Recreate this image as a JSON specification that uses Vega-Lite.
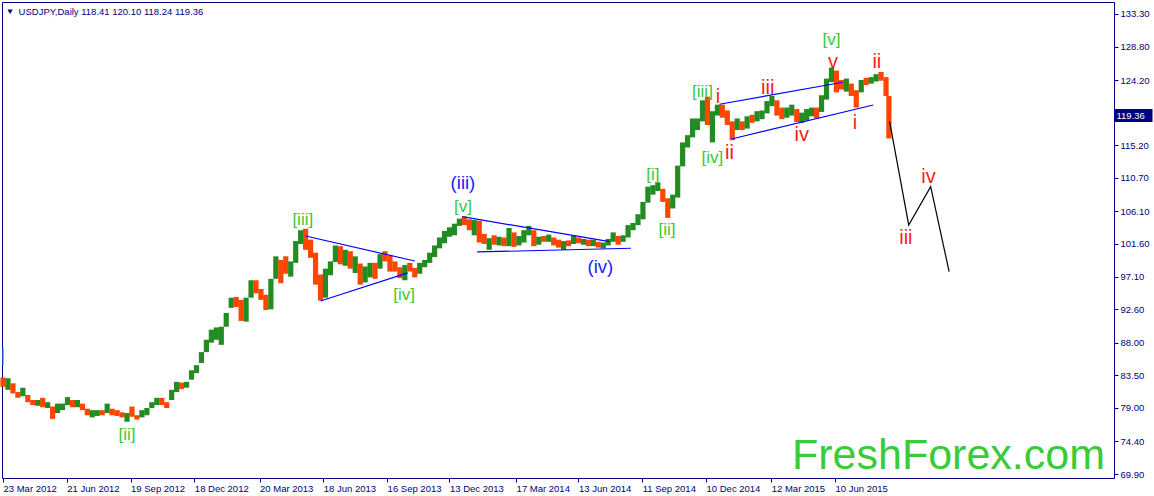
{
  "$schema": "https://vega.github.io/schema/vega-lite/v6.json",
  "width": 1112,
  "height": 476,
  "autosize": {"type": "none"},
  "padding": {"left": 2, "top": 2, "right": 40, "bottom": 18},
  "background": "white",
  "config": {
    "view": {"stroke": "#000080", "strokeWidth": 1},
    "font": "Liberation Sans",
    "text": {"font": "Liberation Sans"}
  },
  "datasets": {
    "bars": [
      {"date":"2012-03-23","o":83.0,"h":83.2,"l":81.9,"c":82.3},
      {"date":"2012-03-30","o":82.3,"h":83.1,"l":81.5,"c":82.9},
      {"date":"2012-04-06","o":82.3,"h":82.4,"l":81.0,"c":81.2},
      {"date":"2012-04-13","o":81.1,"h":81.2,"l":80.4,"c":80.6},
      {"date":"2012-04-20","o":80.7,"h":81.8,"l":80.6,"c":81.5},
      {"date":"2012-04-27","o":80.7,"h":80.8,"l":79.8,"c":80.1},
      {"date":"2012-05-04","o":80.0,"h":80.1,"l":79.4,"c":79.6},
      {"date":"2012-05-11","o":79.5,"h":80.1,"l":79.3,"c":79.9},
      {"date":"2012-05-18","o":80.0,"h":80.4,"l":79.1,"c":79.3},
      {"date":"2012-05-25","o":79.4,"h":79.8,"l":79.0,"c":79.6},
      {"date":"2012-06-01","o":79.2,"h":79.2,"l":77.5,"c":78.0},
      {"date":"2012-06-08","o":78.3,"h":79.6,"l":78.3,"c":79.4},
      {"date":"2012-06-15","o":78.9,"h":79.6,"l":78.7,"c":79.5},
      {"date":"2012-06-22","o":79.6,"h":80.5,"l":79.4,"c":80.3},
      {"date":"2012-06-29","o":80.1,"h":80.1,"l":79.1,"c":79.6},
      {"date":"2012-07-06","o":79.5,"h":80.1,"l":79.1,"c":79.8},
      {"date":"2012-07-13","o":79.6,"h":79.6,"l":78.7,"c":79.0},
      {"date":"2012-07-20","o":78.9,"h":78.9,"l":78.0,"c":78.3},
      {"date":"2012-07-27","o":78.2,"h":78.7,"l":77.7,"c":78.5},
      {"date":"2012-08-03","o":78.4,"h":78.7,"l":77.9,"c":78.6},
      {"date":"2012-08-10","o":78.6,"h":78.7,"l":78.0,"c":78.3},
      {"date":"2012-08-17","o":78.4,"h":79.6,"l":78.3,"c":79.4},
      {"date":"2012-08-24","o":78.9,"h":78.9,"l":78.0,"c":78.4},
      {"date":"2012-08-31","o":78.4,"h":78.7,"l":77.9,"c":78.2},
      {"date":"2012-09-07","o":78.2,"h":78.4,"l":77.7,"c":78.0},
      {"date":"2012-09-14","o":77.9,"h":78.3,"l":77.1,"c":78.3},
      {"date":"2012-09-21","o":78.3,"h":79.2,"l":77.8,"c":78.0},
      {"date":"2012-09-28","o":77.9,"h":78.0,"l":77.4,"c":77.7},
      {"date":"2012-10-05","o":77.8,"h":78.7,"l":77.7,"c":78.5},
      {"date":"2012-10-12","o":78.4,"h":79.0,"l":78.0,"c":78.8},
      {"date":"2012-10-19","o":79.0,"h":79.8,"l":79.0,"c":79.6},
      {"date":"2012-10-26","o":79.6,"h":80.4,"l":79.4,"c":79.9},
      {"date":"2012-11-02","o":80.2,"h":80.4,"l":79.4,"c":79.6},
      {"date":"2012-11-09","o":79.6,"h":79.8,"l":79.0,"c":79.5},
      {"date":"2012-11-16","o":80.1,"h":81.5,"l":80.1,"c":81.3},
      {"date":"2012-11-23","o":81.3,"h":82.6,"l":81.2,"c":82.3},
      {"date":"2012-11-30","o":82.4,"h":82.5,"l":81.6,"c":82.1},
      {"date":"2012-12-07","o":82.1,"h":82.6,"l":81.8,"c":82.4},
      {"date":"2012-12-14","o":82.9,"h":84.2,"l":82.9,"c":84.0},
      {"date":"2012-12-21","o":84.0,"h":84.9,"l":83.8,"c":84.6},
      {"date":"2012-12-28","o":85.2,"h":86.7,"l":85.2,"c":86.5},
      {"date":"2013-01-04","o":87.0,"h":88.4,"l":86.7,"c":88.2},
      {"date":"2013-01-11","o":88.2,"h":89.8,"l":88.0,"c":89.2},
      {"date":"2013-01-18","o":89.4,"h":90.1,"l":88.4,"c":90.0},
      {"date":"2013-01-25","o":89.0,"h":90.2,"l":87.7,"c":90.0},
      {"date":"2013-02-01","o":90.8,"h":92.1,"l":90.2,"c":92.0},
      {"date":"2013-02-08","o":92.8,"h":94.2,"l":92.8,"c":93.6},
      {"date":"2013-02-15","o":93.8,"h":94.3,"l":92.9,"c":93.4},
      {"date":"2013-02-22","o":93.5,"h":93.9,"l":91.0,"c":92.0},
      {"date":"2013-03-01","o":91.8,"h":94.2,"l":90.9,"c":93.6},
      {"date":"2013-03-08","o":94.2,"h":96.6,"l":94.2,"c":96.0},
      {"date":"2013-03-15","o":96.1,"h":96.6,"l":94.8,"c":95.3},
      {"date":"2013-03-22","o":95.2,"h":95.4,"l":93.9,"c":94.5},
      {"date":"2013-03-29","o":94.4,"h":94.6,"l":92.5,"c":93.0},
      {"date":"2013-04-05","o":93.0,"h":96.8,"l":92.6,"c":96.7},
      {"date":"2013-04-12","o":97.0,"h":99.9,"l":96.8,"c":99.5},
      {"date":"2013-04-19","o":99.0,"h":99.4,"l":96.2,"c":98.0},
      {"date":"2013-04-26","o":98.5,"h":99.9,"l":97.5,"c":98.0},
      {"date":"2013-05-03","o":97.9,"h":99.2,"l":97.1,"c":99.0},
      {"date":"2013-05-10","o":99.0,"h":102.0,"l":99.0,"c":101.6},
      {"date":"2013-05-17","o":101.6,"h":103.5,"l":101.6,"c":103.2},
      {"date":"2013-05-24","o":103.1,"h":103.7,"l":100.8,"c":101.0},
      {"date":"2013-05-31","o":101.2,"h":102.2,"l":99.7,"c":100.5},
      {"date":"2013-06-07","o":100.2,"h":100.4,"l":96.0,"c":97.5},
      {"date":"2013-06-14","o":97.4,"h":97.4,"l":93.8,"c":94.1},
      {"date":"2013-06-21","o":94.2,"h":98.2,"l":94.2,"c":97.9},
      {"date":"2013-06-28","o":97.8,"h":99.2,"l":97.3,"c":99.0},
      {"date":"2013-07-05","o":99.1,"h":101.4,"l":99.1,"c":101.2},
      {"date":"2013-07-12","o":101.2,"h":101.3,"l":98.8,"c":99.2},
      {"date":"2013-07-19","o":99.3,"h":100.8,"l":98.6,"c":100.3},
      {"date":"2013-07-26","o":100.1,"h":100.6,"l":98.2,"c":98.3},
      {"date":"2013-08-02","o":98.2,"h":99.9,"l":97.6,"c":99.0},
      {"date":"2013-08-09","o":98.9,"h":98.9,"l":96.0,"c":96.3},
      {"date":"2013-08-16","o":96.3,"h":98.5,"l":96.3,"c":97.5},
      {"date":"2013-08-23","o":97.5,"h":99.0,"l":97.0,"c":98.7},
      {"date":"2013-08-30","o":98.7,"h":99.0,"l":96.8,"c":98.2},
      {"date":"2013-09-06","o":98.2,"h":100.2,"l":98.2,"c":99.6},
      {"date":"2013-09-13","o":99.8,"h":100.6,"l":99.2,"c":99.4},
      {"date":"2013-09-20","o":99.6,"h":100.0,"l":97.8,"c":98.9},
      {"date":"2013-09-27","o":98.9,"h":99.2,"l":97.8,"c":98.3},
      {"date":"2013-10-04","o":98.2,"h":98.4,"l":96.9,"c":97.2},
      {"date":"2013-10-11","o":97.0,"h":98.7,"l":96.6,"c":98.4},
      {"date":"2013-10-18","o":98.4,"h":99.0,"l":97.8,"c":98.0},
      {"date":"2013-10-25","o":98.0,"h":98.3,"l":97.0,"c":97.4},
      {"date":"2013-11-01","o":97.5,"h":99.0,"l":97.5,"c":98.7},
      {"date":"2013-11-08","o":98.6,"h":99.4,"l":98.4,"c":99.0},
      {"date":"2013-11-15","o":99.1,"h":100.4,"l":99.0,"c":100.2},
      {"date":"2013-11-22","o":100.1,"h":101.4,"l":99.8,"c":101.2},
      {"date":"2013-11-29","o":101.3,"h":102.5,"l":101.0,"c":102.4},
      {"date":"2013-12-06","o":102.4,"h":103.4,"l":101.7,"c":102.9},
      {"date":"2013-12-13","o":102.9,"h":103.9,"l":102.6,"c":103.2},
      {"date":"2013-12-20","o":103.2,"h":104.4,"l":102.8,"c":104.1},
      {"date":"2013-12-27","o":104.1,"h":105.1,"l":104.1,"c":105.0},
      {"date":"2014-01-03","o":105.2,"h":105.4,"l":104.2,"c":104.2},
      {"date":"2014-01-10","o":104.3,"h":105.0,"l":103.5,"c":104.2},
      {"date":"2014-01-17","o":104.2,"h":104.9,"l":102.8,"c":104.3},
      {"date":"2014-01-24","o":104.3,"h":104.8,"l":101.8,"c":102.3},
      {"date":"2014-01-31","o":102.3,"h":103.0,"l":101.6,"c":102.0},
      {"date":"2014-02-07","o":102.0,"h":102.4,"l":100.8,"c":102.3},
      {"date":"2014-02-14","o":102.3,"h":102.8,"l":101.5,"c":101.8},
      {"date":"2014-02-21","o":101.8,"h":102.6,"l":101.4,"c":102.5},
      {"date":"2014-02-28","o":102.5,"h":102.5,"l":101.3,"c":101.8},
      {"date":"2014-03-07","o":101.8,"h":103.8,"l":101.3,"c":103.2},
      {"date":"2014-03-14","o":103.2,"h":103.2,"l":101.2,"c":101.3},
      {"date":"2014-03-21","o":101.4,"h":102.7,"l":101.4,"c":102.3},
      {"date":"2014-03-28","o":102.3,"h":103.5,"l":101.8,"c":102.8},
      {"date":"2014-04-04","o":102.9,"h":104.1,"l":102.8,"c":103.3},
      {"date":"2014-04-11","o":103.3,"h":103.5,"l":101.3,"c":101.5},
      {"date":"2014-04-18","o":101.5,"h":102.6,"l":101.5,"c":102.4},
      {"date":"2014-04-25","o":102.4,"h":102.7,"l":101.9,"c":102.2},
      {"date":"2014-05-02","o":102.2,"h":102.9,"l":101.9,"c":102.6},
      {"date":"2014-05-09","o":102.5,"h":102.5,"l":101.4,"c":101.8},
      {"date":"2014-05-16","o":101.8,"h":102.2,"l":101.1,"c":101.4},
      {"date":"2014-05-23","o":101.4,"h":102.0,"l":100.8,"c":101.9},
      {"date":"2014-05-30","o":101.9,"h":102.1,"l":101.3,"c":101.8},
      {"date":"2014-06-06","o":101.8,"h":102.7,"l":101.6,"c":102.5},
      {"date":"2014-06-13","o":102.4,"h":102.5,"l":101.7,"c":102.0},
      {"date":"2014-06-20","o":102.0,"h":102.3,"l":101.5,"c":102.1},
      {"date":"2014-06-27","o":102.0,"h":102.2,"l":101.3,"c":101.4},
      {"date":"2014-07-04","o":101.4,"h":102.2,"l":101.3,"c":102.0},
      {"date":"2014-07-11","o":101.9,"h":101.9,"l":101.1,"c":101.3},
      {"date":"2014-07-18","o":101.3,"h":101.8,"l":101.0,"c":101.4},
      {"date":"2014-07-25","o":101.4,"h":102.3,"l":101.4,"c":101.8},
      {"date":"2014-08-01","o":101.9,"h":103.2,"l":101.9,"c":102.6},
      {"date":"2014-08-08","o":102.6,"h":102.7,"l":101.5,"c":102.0},
      {"date":"2014-08-15","o":102.0,"h":102.8,"l":101.9,"c":102.5},
      {"date":"2014-08-22","o":102.5,"h":104.2,"l":102.5,"c":103.8},
      {"date":"2014-08-29","o":103.8,"h":104.5,"l":103.5,"c":104.1},
      {"date":"2014-09-05","o":104.2,"h":105.7,"l":104.2,"c":105.1},
      {"date":"2014-09-12","o":105.1,"h":107.4,"l":105.0,"c":107.3},
      {"date":"2014-09-19","o":107.3,"h":109.5,"l":107.3,"c":109.0},
      {"date":"2014-09-26","o":109.0,"h":109.7,"l":108.4,"c":109.3},
      {"date":"2014-10-03","o":109.5,"h":110.1,"l":108.9,"c":109.7},
      {"date":"2014-10-10","o":109.2,"h":109.2,"l":107.4,"c":107.6},
      {"date":"2014-10-17","o":107.6,"h":107.9,"l":105.2,"c":106.9},
      {"date":"2014-10-24","o":106.9,"h":108.4,"l":106.5,"c":108.1},
      {"date":"2014-10-31","o":108.2,"h":112.4,"l":108.0,"c":112.3},
      {"date":"2014-11-07","o":112.3,"h":115.6,"l":112.3,"c":114.8},
      {"date":"2014-11-14","o":114.9,"h":116.6,"l":114.9,"c":116.3},
      {"date":"2014-11-21","o":116.3,"h":118.9,"l":116.3,"c":117.7},
      {"date":"2014-11-28","o":117.7,"h":118.9,"l":117.3,"c":118.6},
      {"date":"2014-12-05","o":118.6,"h":121.4,"l":118.5,"c":121.4},
      {"date":"2014-12-12","o":121.4,"h":121.9,"l":118.0,"c":118.8},
      {"date":"2014-12-19","o":118.8,"h":119.9,"l":115.6,"c":119.5},
      {"date":"2014-12-26","o":119.5,"h":120.8,"l":119.3,"c":120.4},
      {"date":"2015-01-02","o":120.6,"h":120.8,"l":119.0,"c":120.0},
      {"date":"2015-01-09","o":120.0,"h":120.0,"l":118.0,"c":118.5},
      {"date":"2015-01-16","o":118.5,"h":118.5,"l":115.9,"c":117.5},
      {"date":"2015-01-23","o":117.5,"h":118.9,"l":117.3,"c":117.8},
      {"date":"2015-01-30","o":117.8,"h":118.5,"l":117.3,"c":117.5},
      {"date":"2015-02-06","o":117.6,"h":119.2,"l":117.5,"c":119.1},
      {"date":"2015-02-13","o":119.1,"h":119.4,"l":118.3,"c":118.7},
      {"date":"2015-02-20","o":118.7,"h":119.9,"l":118.5,"c":119.0},
      {"date":"2015-02-27","o":119.0,"h":120.0,"l":118.8,"c":119.6},
      {"date":"2015-03-06","o":119.6,"h":121.3,"l":119.6,"c":120.8},
      {"date":"2015-03-13","o":120.9,"h":122.0,"l":120.6,"c":121.4},
      {"date":"2015-03-20","o":121.4,"h":121.4,"l":119.3,"c":120.0},
      {"date":"2015-03-27","o":120.0,"h":120.4,"l":118.8,"c":119.2},
      {"date":"2015-04-03","o":119.2,"h":120.4,"l":119.0,"c":119.9},
      {"date":"2015-04-10","o":119.9,"h":120.8,"l":119.3,"c":120.2},
      {"date":"2015-04-17","o":120.2,"h":120.2,"l":118.4,"c":118.9},
      {"date":"2015-04-24","o":118.9,"h":119.7,"l":118.3,"c":119.0},
      {"date":"2015-05-01","o":119.0,"h":120.2,"l":118.6,"c":119.6},
      {"date":"2015-05-08","o":119.6,"h":120.4,"l":119.2,"c":119.8},
      {"date":"2015-05-15","o":119.8,"h":120.4,"l":118.9,"c":119.3},
      {"date":"2015-05-22","o":119.8,"h":122.1,"l":119.8,"c":121.5},
      {"date":"2015-05-29","o":121.5,"h":124.4,"l":121.5,"c":124.1},
      {"date":"2015-06-05","o":124.1,"h":125.9,"l":123.9,"c":125.5},
      {"date":"2015-06-12","o":125.5,"h":125.5,"l":122.5,"c":123.4},
      {"date":"2015-06-19","o":123.3,"h":124.2,"l":122.9,"c":123.0},
      {"date":"2015-06-26","o":122.8,"h":124.4,"l":122.6,"c":123.9},
      {"date":"2015-07-03","o":123.7,"h":123.7,"l":122.0,"c":122.7},
      {"date":"2015-07-10","o":122.6,"h":122.8,"l":120.4,"c":122.2},
      {"date":"2015-07-17","o":122.5,"h":124.2,"l":122.5,"c":124.0},
      {"date":"2015-07-24","o":124.0,"h":124.5,"l":123.5,"c":123.8},
      {"date":"2015-07-31","o":123.8,"h":124.6,"l":123.7,"c":124.1},
      {"date":"2015-08-07","o":124.1,"h":125.0,"l":124.0,"c":124.2},
      {"date":"2015-08-14","o":124.9,"h":125.3,"l":124.1,"c":124.3},
      {"date":"2015-08-21","o":124.4,"h":124.6,"l":122.0,"c":122.0},
      {"date":"2015-08-25","o":122.0,"h":122.0,"l":116.15,"c":119.36}
    ],
    "lines": [
      {"id":"t1u","kind":"channel","date":"2013-05-24","price":102.7},
      {"id":"t1u","kind":"channel","date":"2013-10-25","price":99.26},
      {"id":"t1l","kind":"channel","date":"2013-06-14","price":93.75},
      {"id":"t1l","kind":"channel","date":"2013-10-15","price":97.61},
      {"id":"t2u","kind":"channel","date":"2013-12-31","price":105.36},
      {"id":"t2u","kind":"channel","date":"2014-07-27","price":101.92},
      {"id":"t2l","kind":"channel","date":"2014-01-21","price":100.5},
      {"id":"t2l","kind":"channel","date":"2014-08-26","price":101.01},
      {"id":"t3u","kind":"channel","date":"2014-12-29","price":120.86},
      {"id":"t3u","kind":"channel","date":"2015-06-21","price":123.89},
      {"id":"t3l","kind":"channel","date":"2015-01-15","price":116.07},
      {"id":"t3l","kind":"channel","date":"2015-08-03","price":120.76},
      {"id":"fc","kind":"forecast","date":"2015-08-26","price":118.5},
      {"id":"fc","kind":"forecast","date":"2015-09-22","price":104.22},
      {"id":"fc","kind":"forecast","date":"2015-10-23","price":109.5},
      {"id":"fc","kind":"forecast","date":"2015-11-18","price":97.79},
      {"id":"mk","kind":"marker","date":"2012-03-23","price":87.27},
      {"id":"mk","kind":"marker","date":"2012-03-23","price":84.93}
    ],
    "labels": [
      {"date":"2012-09-14","price":75.28,"text":"[ii]","degree":"primary"},
      {"date":"2013-05-20","price":104.91,"text":"[iii]","degree":"primary"},
      {"date":"2013-10-10","price":94.57,"text":"[iv]","degree":"primary"},
      {"date":"2014-01-01","price":106.7,"text":"[v]","degree":"primary"},
      {"date":"2014-01-01","price":110.01,"text":"(iii)","degree":"intermediate"},
      {"date":"2014-07-14","price":98.43,"text":"(iv)","degree":"intermediate"},
      {"date":"2014-09-26","price":111.11,"text":"[i]","degree":"primary"},
      {"date":"2014-10-16","price":103.53,"text":"[ii]","degree":"primary"},
      {"date":"2014-12-05","price":122.55,"text":"[iii]","degree":"primary"},
      {"date":"2014-12-19","price":113.45,"text":"[iv]","degree":"primary"},
      {"date":"2015-06-05","price":129.72,"text":"[v]","degree":"primary"},
      {"date":"2014-12-27","price":121.86,"text":"i","degree":"minor"},
      {"date":"2015-01-12","price":114.14,"text":"ii","degree":"minor"},
      {"date":"2015-03-07","price":123.1,"text":"iii","degree":"minor"},
      {"date":"2015-04-24","price":116.62,"text":"iv","degree":"minor"},
      {"date":"2015-06-07","price":126.68,"text":"v","degree":"minor"},
      {"date":"2015-07-08","price":118.28,"text":"i","degree":"minor"},
      {"date":"2015-08-08","price":126.68,"text":"ii","degree":"minor"},
      {"date":"2015-09-18","price":102.43,"text":"iii","degree":"minor"},
      {"date":"2015-10-20","price":110.84,"text":"iv","degree":"minor"}
    ],
    "watermark": [
      {"date":"2016-06-25","price":70.59,"t":"FreshForex.com"}
    ],
    "header": [
      {"date":"2012-04-14","price":133.16,"t":"USDJPY,Daily  118.41 120.10 118.24 119.36"}
    ],
    "arrow": [
      {"date":"2012-04-02","price":133.6}
    ]
  },
  "layer": [
    {
      "mark": {"type": "rule", "color": "#c8c8c8", "strokeWidth": 1},
      "encoding": {
        "y": {
          "datum": 119.36,
          "type": "quantitative",
          "scale": {"domain": [69.35, 134.95], "nice": false, "zero": false},
          "axis": {
            "orient": "right",
            "values": [119.36],
            "format": ".2f",
            "title": null,
            "domain": false,
            "grid": false,
            "tickSize": 38,
            "tickWidth": 13,
            "tickCap": "butt",
            "tickColor": "#000080",
            "labelColor": "#ffffff",
            "labelPadding": -36,
            "labelFontSize": 9.5,
            "labelFont": "Liberation Sans",
            "labelBound": false,
            "labelOverlap": false
          }
        }
      }
    },
    {
      "data": {"name": "bars"},
      "mark": {"type": "bar", "width": 5.2, "strokeWidth": 0},
      "encoding": {
        "x": {
          "field": "date",
          "type": "temporal",
          "scale": {
            "type": "utc",
            "padding": 0,
            "domain": [
              {"year": 2012, "month": 3, "date": 21, "hours": 14, "utc": true},
              {"year": 2016, "month": 7, "date": 7, "hours": 16, "utc": true}
            ]
          },
          "axis": {
            "values": [
              {"year": 2012, "month": 3, "date": 23, "utc": true},
              {"year": 2012, "month": 6, "date": 21, "utc": true},
              {"year": 2012, "month": 9, "date": 19, "utc": true},
              {"year": 2012, "month": 12, "date": 18, "utc": true},
              {"year": 2013, "month": 3, "date": 20, "utc": true},
              {"year": 2013, "month": 6, "date": 18, "utc": true},
              {"year": 2013, "month": 9, "date": 16, "utc": true},
              {"year": 2013, "month": 12, "date": 13, "utc": true},
              {"year": 2014, "month": 3, "date": 17, "utc": true},
              {"year": 2014, "month": 6, "date": 13, "utc": true},
              {"year": 2014, "month": 9, "date": 11, "utc": true},
              {"year": 2014, "month": 12, "date": 10, "utc": true},
              {"year": 2015, "month": 3, "date": 12, "utc": true},
              {"year": 2015, "month": 6, "date": 10, "utc": true}
            ],
            "format": "%d %b %Y",
            "title": null,
            "domain": false,
            "grid": false,
            "tickSize": 4,
            "tickColor": "#000080",
            "labelColor": "#000080",
            "labelFontSize": 9.5,
            "labelFont": "Liberation Sans",
            "labelAlign": "left",
            "labelPadding": 1,
            "labelFlush": false,
            "labelBound": false,
            "labelOverlap": false
          }
        },
        "y": {
          "field": "l",
          "type": "quantitative",
          "scale": {"domain": [69.35, 134.95], "nice": false, "zero": false},
          "axis": {
            "orient": "right",
            "values": [133.3, 128.8, 124.2, 115.2, 110.7, 106.1, 101.6, 97.1, 92.6, 88.0, 83.5, 79.0, 74.4, 69.9],
            "format": ".2f",
            "title": null,
            "domain": false,
            "grid": false,
            "tickSize": 4,
            "tickColor": "#000080",
            "labelColor": "#000080",
            "labelFontSize": 9.5,
            "labelFont": "Liberation Sans",
            "labelPadding": 2,
            "labelBound": false,
            "labelOverlap": false
          }
        },
        "y2": {"field": "h"},
        "color": {
          "condition": {"test": "datum.c >= datum.o", "value": "#228b22"},
          "value": "#ff4500"
        }
      }
    },
    {
      "data": {"name": "lines"},
      "mark": {"type": "line", "strokeWidth": 1.2},
      "encoding": {
        "x": {"field": "date", "type": "temporal", "axis": null},
        "y": {"field": "price", "type": "quantitative", "axis": null},
        "detail": {"field": "id"},
        "color": {
          "field": "kind",
          "type": "nominal",
          "scale": {"domain": ["channel", "forecast", "marker"], "range": ["#0000ff", "#000000", "#2277ff"]},
          "legend": null
        }
      }
    },
    {
      "data": {"name": "labels"},
      "mark": {"type": "text", "align": "center", "baseline": "middle", "font": "Liberation Sans"},
      "encoding": {
        "x": {"field": "date", "type": "temporal", "axis": null},
        "y": {"field": "price", "type": "quantitative", "axis": null},
        "text": {"field": "text"},
        "color": {
          "field": "degree",
          "type": "nominal",
          "scale": {"domain": ["primary", "intermediate", "minor"], "range": ["#38c838", "#1a1aff", "#ff1a1a"]},
          "legend": null
        },
        "size": {
          "field": "degree",
          "type": "ordinal",
          "scale": {"domain": ["primary", "intermediate", "minor"], "range": [17, 20, 16]},
          "legend": null
        }
      }
    },
    {
      "data": {"name": "watermark"},
      "mark": {"type": "text", "align": "right", "baseline": "alphabetic", "fontSize": 43, "color": "#38cc38", "font": "Liberation Sans"},
      "encoding": {
        "x": {"field": "date", "type": "temporal", "axis": null},
        "y": {"field": "price", "type": "quantitative", "axis": null},
        "text": {"field": "t"}
      }
    },
    {
      "data": {"name": "arrow"},
      "mark": {"type": "point", "shape": "triangle-down", "size": 28, "filled": true, "color": "#000080", "opacity": 1},
      "encoding": {
        "x": {"field": "date", "type": "temporal", "axis": null},
        "y": {"field": "price", "type": "quantitative", "axis": null}
      }
    },
    {
      "data": {"name": "header"},
      "mark": {"type": "text", "align": "left", "baseline": "alphabetic", "fontSize": 9.5, "color": "#000080", "font": "Liberation Sans"},
      "encoding": {
        "x": {"field": "date", "type": "temporal", "axis": null},
        "y": {"field": "price", "type": "quantitative", "axis": null},
        "text": {"field": "t"}
      }
    }
  ],
  "resolve": {
    "scale": {"color": "independent", "size": "independent"},
    "axis": {"x": "independent", "y": "independent"}
  }
}
